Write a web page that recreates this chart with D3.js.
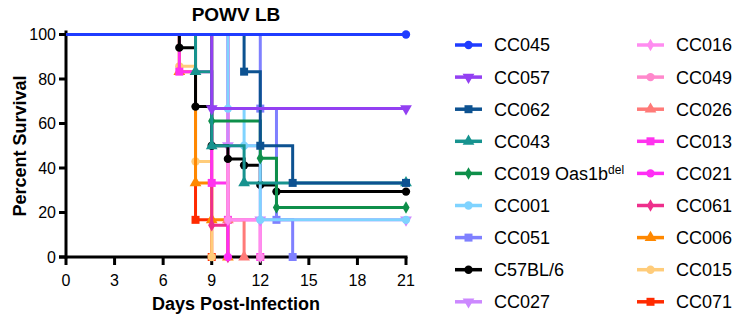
<!DOCTYPE html>
<html><head><meta charset="utf-8">
<script src="https://cdn.jsdelivr.net/npm/d3@7"></script>
<style>body{margin:0;background:#fff}svg{display:block}text{font-family:"Liberation Sans",Arial,sans-serif}</style>
</head><body><svg id="c" width="733" height="317"></svg>
<script>
const title = "POWV LB";
const xTicks = [0,3,6,9,12,15,18,21];
const yTicks = [0,20,40,60,80,100];
const names = ["CC045","CC057","CC062","CC043","CC019 Oas1b","CC001","CC051","C57BL/6","CC027","CC016","CC049","CC026","CC013","CC021","CC061","CC006","CC015","CC071"];
const colors = ["#1f3cff","#9340f2","#0d5291","#17938f","#0e8f4a","#7fd3ff","#7f80ff","#000000","#cc88ff","#ff8cf0","#ff88cc","#ff7a78","#ff33ee","#ff2ef5","#ee2f8c","#ff8800","#ffcc7a","#ff2a00"];
const shapes = ["circle","tdown","square","tup","diamond","circle","square","circle","tdown","diamond","circle","tup","square","circle","diamond","tup","circle","square"];
const sCC045 = [[0,100],[21,100]];
const sCC057 = [[0,100],[9,66.7],[21,66.7]];
const sCC062 = [[0,100],[11,83.3],[12,50],[14,33.3],[21,33.3]];
const sCC043 = [[0,100],[8,83.3],[9,50],[11,33.3],[21,33.3]];
const sCC019 = [[0,100],[9,61.1],[12,44.4],[13,22.2],[21,22.2]];
const sCC001 = [[0,100],[10,66.7],[11,50],[12,16.7],[21,16.7]];
const sCC051 = [[0,100],[12,66.7],[13,16.7],[14,0]];
const sB6 = [[0,100],[7,94.1],[8,67.6],[9,50],[10,44.1],[11,41.2],[12,32.4],[13,29.4],[21,29.4]];
const sCC027 = [[0,100],[10,50],[12,16.7],[21,16.7]];
const sCC016 = [[0,100],[10,16.7],[12,0]];
const sCC049 = [[0,100],[10,16.7],[12,0]];
const sCC026 = [[0,100],[10,16.7],[11,0]];
const sCC013 = [[0,100],[7,83.3],[9,33.3],[10,16.7],[12,0]];
const sCC021 = [[0,100],[10,0]];
const sCC061 = [[0,100],[9,14.3],[10,0]];
const sCC006 = [[0,100],[7,83.3],[8,33.3],[9,16.7],[10,0]];
const sCC015 = [[0,100],[7,85.7],[8,42.9],[9,0]];
const sCC071 = [[0,100],[8,16.7],[9,0]];
const seriesData = [sCC045,sCC057,sCC062,sCC043,sCC019,sCC001,sCC051,sB6,sCC027,sCC016,sCC049,sCC026,sCC013,sCC021,sCC061,sCC006,sCC015,sCC071];

const svg = d3.select("#c");
const x = d3.scaleLinear().domain([0,21]).range([66,406]);
const y = d3.scaleLinear().domain([0,100]).range([257,34.5]);

function sym(shape){
  if(shape==="circle") return d3.symbol(d3.symbolCircle,55)();
  if(shape==="square") return d3.symbol(d3.symbolSquare,64)();
  if(shape==="diamond") return d3.symbol(d3.symbolDiamond,45)();
  return d3.symbol(d3.symbolTriangle,60)();
}
function rot(shape){return shape==="tdown"?" rotate(180)":"";}

// axes
const ax = svg.append("g").attr("stroke","#000").attr("stroke-width",3);
ax.append("line").attr("x1",x(0)).attr("x2",x(0)).attr("y1",y(0)+1.5).attr("y2",y(100)-4);
ax.append("line").attr("x1",x(0)-7).attr("x2",x(21)+1.5).attr("y1",y(0)).attr("y2",y(0));
yTicks.forEach(t=>ax.append("line").attr("x1",x(0)-7).attr("x2",x(0)).attr("y1",y(t)).attr("y2",y(t)));
xTicks.forEach(t=>ax.append("line").attr("x1",x(t)).attr("x2",x(t)).attr("y1",y(0)).attr("y2",y(0)+8));
yTicks.forEach(t=>svg.append("text").attr("x",x(0)-10).attr("y",y(t)).attr("dy","0.36em").attr("text-anchor","end").attr("font-size",16).text(t));
xTicks.forEach(t=>svg.append("text").attr("x",x(t)).attr("y",286).attr("text-anchor","middle").attr("font-size",16).text(t));

svg.append("text").attr("x",236).attr("y",21).attr("text-anchor","middle").attr("font-size",19).attr("font-weight","bold").text(title);
svg.append("text").attr("x",236).attr("y",310).attr("text-anchor","middle").attr("font-size",18).attr("font-weight","bold").text("Days Post-Infection");
svg.append("text").attr("transform","translate(26,146) rotate(-90)").attr("text-anchor","middle").attr("font-size",18).attr("font-weight","bold").text("Percent Survival");

// curves: draw last series first so first series on top
const line = d3.line().x(d=>x(d[0])).y(d=>y(d[1])).curve(d3.curveStepAfter);
for(let i=seriesData.length-1;i>=0;i--){
  const g = svg.append("g");
  g.append("path").attr("d",line(seriesData[i])).attr("fill","none").attr("stroke",colors[i]).attr("stroke-width",3);
  seriesData[i].slice(1).forEach(p=>{
    g.append("path").attr("d",sym(shapes[i])).attr("transform",`translate(${x(p[0])},${y(p[1])})${rot(shapes[i])}`).attr("fill",colors[i]);
  });
}

// legend
names.forEach((n,i)=>{
  const col = i<9?0:1, row = i%9;
  const lx = col===0?455:637, ly = 45+row*32.1;
  const g = svg.append("g");
  g.append("line").attr("x1",lx).attr("x2",lx+27).attr("y1",ly).attr("y2",ly).attr("stroke",colors[i]).attr("stroke-width",3.5);
  g.append("path").attr("d",sym(shapes[i])).attr("transform",`translate(${lx+13.5},${ly})${rot(shapes[i])}`).attr("fill",colors[i]);
  const t = g.append("text").attr("x",lx+39).attr("y",ly).attr("dy","0.36em").attr("font-size",18).text(n);
  if(n==="CC019 Oas1b") t.append("tspan").attr("dy","-0.45em").attr("font-size",12).text("del");
});
</script></body></html>
